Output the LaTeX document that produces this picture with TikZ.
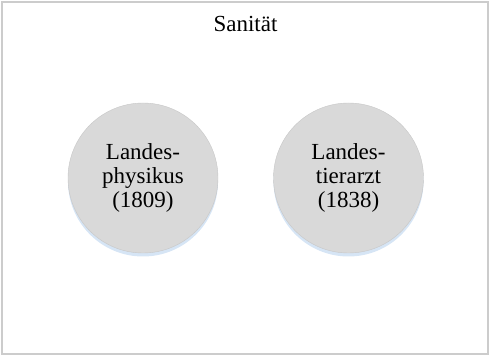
\documentclass[tikz,border=0pt]{standalone}
\usepackage{fontspec}
\setmainfont{Liberation Serif}
\usetikzlibrary{shadows}
\definecolor{glowblue}{RGB}{204,222,242}

\begin{document}
\begin{tikzpicture}[
      x=1pt,y=-1pt,
      office circle/.style ={circle,minimum size=150pt,inner sep=0pt,draw=black!22,fill=black!15,
        align=center,font=\fontsize{23}{24}\selectfont,
        drop shadow={shadow xshift=0pt,shadow yshift=-3.5pt,fill=glowblue,opacity=0.8}},
      scale=1]
    \useasboundingbox (0,0) rectangle (491,358);
    \draw[black!20,line width=1.6pt] (2,2) rectangle (488,354);
    \node[font=\fontsize{23}{24}\selectfont,anchor=base] (title) at (245.5,31.5) {Sanität};
    \node[office circle] (physikus) at (143,178) {Landes-\\physikus\\(1809)};
    \node[office circle] (tierarzt) at (348.5,178) {Landes-\\tierarzt\\(1838)};
    \end{tikzpicture}
\end{document}
